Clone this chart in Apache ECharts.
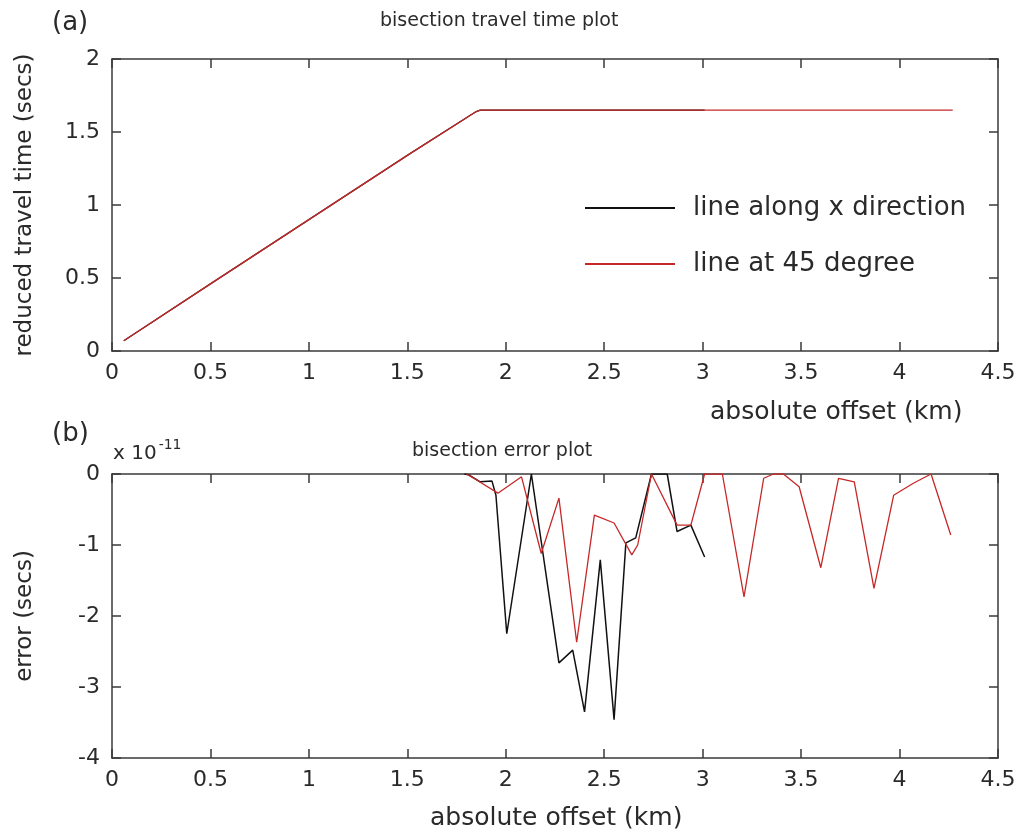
<!DOCTYPE html>
<html>
<head>
<meta charset="utf-8">
<script src="https://cdn.jsdelivr.net/npm/echarts@6/dist/echarts.min.js"></script>
<style>
  html, body { margin: 0; padding: 0; background: #fff; }
  #main { width: 1021px; height: 837px; }
</style>
</head>
<body>
<div id="main"></div>
<script>
// (a) travel time, [offset km, secs]
var travelBlack = [[0.06, 0.07], [0.5, 0.46], [1.0, 0.90], [1.5, 1.34], [1.85, 1.64], [1.87, 1.65], [3.01, 1.65]];
var travelRed = [[0.06, 0.07], [0.5, 0.46], [1.0, 0.90], [1.5, 1.34], [1.85, 1.64], [1.87, 1.65], [4.27, 1.65]];

// (b) error, [offset km, secs x 1e-11]
var errBlack = [[1.79, 0], [1.81, -0.01], [1.87, -0.11], [1.93, -0.1], [1.95, -0.3], [2.005, -2.25], [2.13, 0],
  [2.27, -2.66], [2.34, -2.48], [2.40, -3.35], [2.48, -1.21], [2.55, -3.46], [2.61, -0.97], [2.66, -0.9],
  [2.74, 0], [2.82, 0], [2.87, -0.81], [2.94, -0.72], [3.01, -1.17]];
var errRed = [[1.80, 0], [1.85, -0.08], [1.96, -0.27], [2.08, -0.04], [2.18, -1.12], [2.27, -0.34], [2.36, -2.37],
  [2.45, -0.58], [2.55, -0.69], [2.64, -1.14], [2.67, -1.0], [2.74, 0], [2.87, -0.72], [2.94, -0.72], [3.01, 0],
  [3.10, 0], [3.21, -1.73], [3.31, -0.06], [3.36, 0], [3.41, 0], [3.49, -0.18], [3.60, -1.32], [3.69, -0.06],
  [3.77, -0.11], [3.87, -1.61], [3.97, -0.3], [4.07, -0.13], [4.16, 0], [4.26, -0.86]];

var seriesNames = ['line along x direction', 'line at 45 degree'];
var FONT = 'DejaVu Sans, sans-serif';
var AXIS_COLOR = '#3a3a3a';
var TEXT_COLOR = '#2a2a2a';

function xAxisFor(grid, pos, labels) {
  return {
    type: 'value', gridIndex: grid, position: pos, min: 0, max: 4.5, interval: 0.5,
    axisLine: { show: true, onZero: false, lineStyle: { color: AXIS_COLOR, width: 1.5 } },
    axisTick: { show: true, inside: true, length: 9, lineStyle: { color: AXIS_COLOR, width: 1.5 } },
    axisLabel: { show: labels, margin: 11, color: TEXT_COLOR, fontSize: 22, fontFamily: FONT },
    splitLine: { show: false }
  };
}
function yAxisFor(grid, pos, min, max, interval, labels, name) {
  return {
    type: 'value', gridIndex: grid, position: pos, min: min, max: max, interval: interval,
    name: name || '', nameLocation: 'middle', nameGap: 75,
    nameTextStyle: { color: TEXT_COLOR, fontSize: 23, fontFamily: FONT },
    axisLine: { show: true, onZero: false, lineStyle: { color: AXIS_COLOR, width: 1.5 } },
    axisTick: { show: true, inside: true, length: 9, lineStyle: { color: AXIS_COLOR, width: 1.5 } },
    axisLabel: { show: labels, margin: 12, color: TEXT_COLOR, fontSize: 22, fontFamily: FONT },
    splitLine: { show: false }
  };
}
function label(text, left, top, size) {
  return { text: text, left: left, top: top, padding: 0,
    textStyle: { color: TEXT_COLOR, fontSize: size, fontWeight: 'normal', fontFamily: FONT } };
}

var chart = echarts.init(document.getElementById('main'));
chart.setOption({
  animation: false,
  backgroundColor: '#fff',
  title: [
    label('(a)', 52, 10, 26),
    label('bisection travel time plot', 380, 12, 19),
    label('absolute offset (km)', 710, 400, 25),
    label('(b)', 52, 421, 26),
    label('bisection error plot', 412, 442, 19),
    label('absolute offset (km)', 430, 806, 25),
    {
      text: '{b|x 10}{s|-11}', left: 113, top: 438, padding: 0,
      textStyle: {
        rich: {
          b: { fontSize: 20, fontWeight: 'normal', color: TEXT_COLOR, fontFamily: FONT, verticalAlign: 'bottom' },
          s: { fontSize: 14, fontWeight: 'normal', color: TEXT_COLOR, fontFamily: FONT, verticalAlign: 'top',
               padding: [0, 0, 12, 2] }
        }
      }
    }
  ],
  legend: {
    data: seriesNames, orient: 'vertical', left: 580, top: 190, itemWidth: 90, itemHeight: 2, itemGap: 30,
    icon: 'rect',
    textStyle: { color: TEXT_COLOR, fontSize: 26, fontFamily: FONT, padding: [0, 0, 0, 13] }
  },
  grid: [
    { left: 112, top: 59, width: 886, height: 292 },
    { left: 112, top: 474, width: 886, height: 284 }
  ],
  xAxis: [
    xAxisFor(0, 'bottom', true),
    xAxisFor(1, 'bottom', true),
    xAxisFor(0, 'top', false),
    xAxisFor(1, 'top', false)
  ],
  yAxis: [
    yAxisFor(0, 'left', 0, 2, 0.5, true, 'reduced travel time (secs)'),
    yAxisFor(1, 'left', -4, 0, 1, true, 'error (secs)'),
    yAxisFor(0, 'right', 0, 2, 0.5, false),
    yAxisFor(1, 'right', -4, 0, 1, false)
  ],
  series: [
    { name: seriesNames[0], type: 'line', xAxisIndex: 0, yAxisIndex: 0, data: travelBlack, showSymbol: false,
      lineStyle: { color: '#111', width: 1.3 }, itemStyle: { color: '#111' } },
    { name: seriesNames[1], type: 'line', xAxisIndex: 0, yAxisIndex: 0, data: travelRed, showSymbol: false,
      lineStyle: { color: '#c62828', width: 1.3 }, itemStyle: { color: '#c62828' } },
    { name: seriesNames[0], type: 'line', xAxisIndex: 1, yAxisIndex: 1, data: errBlack, showSymbol: false,
      lineStyle: { color: '#111', width: 1.5 }, itemStyle: { color: '#111' } },
    { name: seriesNames[1], type: 'line', xAxisIndex: 1, yAxisIndex: 1, data: errRed, showSymbol: false,
      lineStyle: { color: '#c62828', width: 1.3 }, itemStyle: { color: '#c62828' } }
  ]
});
</script>
</body>
</html>
